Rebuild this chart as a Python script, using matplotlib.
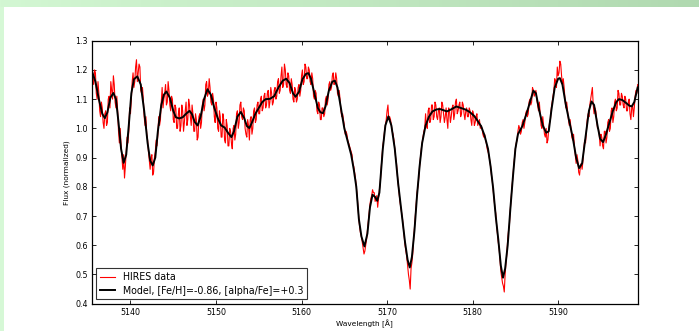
import matplotlib.pyplot as plt
import numpy as np

# model spectrum
model_wave = [
    5135.5, 5135.9, 5136.3, 5136.7, 5137.0, 5137.3, 5137.65, 5138.0, 5138.3, 5138.6,
    5138.9, 5139.2, 5139.5, 5139.8, 5140.1, 5140.4, 5140.8, 5141.2, 5141.6, 5142.0,
    5142.3, 5142.6, 5142.9, 5143.2, 5143.6, 5143.9, 5144.2, 5144.6, 5145.0, 5145.3,
    5145.7, 5146.1, 5146.5, 5146.9, 5147.2, 5147.5, 5147.85, 5148.2, 5148.6, 5149.0,
    5149.4, 5149.8, 5150.2, 5150.6, 5151.0, 5151.4, 5151.8, 5152.1, 5152.5, 5152.9,
    5153.3, 5153.6, 5153.9, 5154.2, 5154.6, 5155.0, 5155.4, 5155.8, 5156.3, 5156.8,
    5157.3, 5157.8, 5158.2, 5158.6, 5159.0, 5159.3, 5159.7, 5160.1, 5160.5, 5160.8,
    5161.1, 5161.5, 5161.9, 5162.2, 5162.5, 5162.8, 5163.2, 5163.6, 5163.9, 5164.2,
    5164.6, 5165.0, 5165.4, 5165.8, 5166.1, 5166.4, 5166.7, 5167.0, 5167.35, 5167.7,
    5168.0, 5168.3, 5168.6, 5168.85, 5169.1, 5169.5, 5169.8, 5170.15, 5170.5, 5170.9,
    5171.3, 5171.7, 5172.1, 5172.4, 5172.65, 5172.9, 5173.2, 5173.5, 5173.8, 5174.1,
    5174.5, 5174.9, 5175.3, 5175.8, 5176.2, 5176.6, 5177.0, 5177.5, 5178.1, 5178.6,
    5179.2, 5179.7, 5180.2, 5180.6, 5181.0, 5181.4, 5181.8, 5182.1, 5182.4, 5182.7,
    5183.0, 5183.3, 5183.55, 5183.8, 5184.1, 5184.4, 5184.7, 5185.0, 5185.3, 5185.8,
    5186.3, 5186.8, 5187.1, 5187.4, 5187.8, 5188.2, 5188.6, 5188.9, 5189.2, 5189.6,
    5190.0, 5190.2, 5190.5, 5190.9, 5191.3, 5191.7, 5192.1, 5192.45, 5192.8, 5193.2,
    5193.6, 5193.9, 5194.2, 5194.6, 5194.9, 5195.25, 5195.6, 5196.0, 5196.4, 5196.8,
    5197.1, 5197.5, 5197.9, 5198.3, 5198.6, 5198.9, 5199.3,
]
model_flux = [
    1.195, 1.16, 1.10, 1.05, 1.035, 1.055, 1.105, 1.121, 1.10, 1.02,
    0.93, 0.882, 0.91, 1.01, 1.12, 1.168, 1.178, 1.15, 1.06, 0.95,
    0.89, 0.873, 0.90, 0.99, 1.08, 1.115, 1.126, 1.105, 1.06, 1.038,
    1.034, 1.038, 1.05, 1.060, 1.048, 1.022, 1.010, 1.04, 1.10, 1.134,
    1.115, 1.07, 1.035, 1.01, 1.003, 0.985, 0.970, 0.99, 1.04, 1.056,
    1.035, 1.008, 1.001, 1.02, 1.05, 1.07, 1.09, 1.10, 1.101, 1.11,
    1.14, 1.163, 1.170, 1.155, 1.12, 1.108, 1.125, 1.168, 1.186, 1.189,
    1.17, 1.12, 1.07, 1.055, 1.052, 1.075, 1.13, 1.160, 1.163, 1.14,
    1.07, 1.00, 0.955, 0.91, 0.86, 0.80, 0.69, 0.63, 0.596, 0.64,
    0.73, 0.773, 0.765, 0.752, 0.78, 0.93, 1.01, 1.041, 1.01, 0.93,
    0.81, 0.71, 0.61, 0.55, 0.524, 0.56, 0.65, 0.77, 0.87, 0.95,
    1.01, 1.04, 1.058, 1.065, 1.066, 1.062, 1.058, 1.065, 1.075, 1.070,
    1.064, 1.055, 1.042, 1.025, 1.007, 0.975, 0.93, 0.87, 0.795, 0.70,
    0.62, 0.53, 0.489, 0.52, 0.60, 0.72, 0.83, 0.93, 0.98, 1.007,
    1.05, 1.10, 1.129, 1.12, 1.06, 1.01, 0.985, 0.99, 1.06, 1.14,
    1.17, 1.172, 1.15, 1.08, 1.024, 0.97, 0.90, 0.864, 0.88, 0.97,
    1.06, 1.092, 1.08, 1.01, 0.965, 0.953, 0.98, 1.02, 1.06, 1.09,
    1.100, 1.097, 1.088, 1.078, 1.075, 1.09, 1.140,
]

# HIRES data, sampled every 0.1 A from 5135.5 to 5199.3 (one row = 2 A)
data_flux = [
    1.21, 1.17, 1.15, 1.20, 1.19, 1.12, 1.10, 1.16, 1.12, 1.06, 1.04, 1.09, 1.07, 1.02, 1.00, 1.05, 1.06, 1.01, 1.02, 1.10,
    1.11, 1.07, 1.16, 1.13, 1.10, 1.18, 1.15, 1.09, 1.07, 1.11, 1.06, 0.99, 0.95, 1.00, 0.94, 0.90, 0.86, 0.91, 0.83, 0.87,
    0.92, 0.97, 0.95, 0.99, 1.07, 1.05, 1.10, 1.16, 1.19, 1.14, 1.16, 1.21, 1.235, 1.16, 1.19, 1.22, 1.21, 1.13, 1.12, 1.14,
    1.10, 1.04, 1.01, 1.04, 0.98, 0.96, 0.92, 0.89, 0.86, 0.90, 0.91, 0.84, 0.85, 0.90, 0.92, 0.96, 0.94, 0.98, 1.04, 1.01,
    1.03, 1.09, 1.14, 1.07, 1.10, 1.12, 1.15, 1.08, 1.09, 1.16, 1.13, 1.08, 1.06, 1.11, 1.10, 1.03, 1.02, 1.08, 1.07, 1.00,
    1.00, 1.05, 1.07, 0.99, 1.01, 1.08, 1.06, 0.99, 1.02, 1.06, 1.09, 1.01, 1.03, 1.10, 1.08, 1.04, 1.01, 1.08, 1.05, 0.99,
    0.99, 1.05, 1.03, 0.96, 0.97, 1.04, 1.05, 1.00, 1.02, 1.08, 1.10, 1.06, 1.08, 1.15, 1.16, 1.11, 1.12, 1.17, 1.14, 1.09,
    1.08, 1.12, 1.10, 1.04, 1.02, 1.09, 1.07, 1.00, 0.99, 1.06, 1.04, 0.97, 0.97, 1.05, 1.03, 0.96, 0.95, 1.03, 1.01, 0.94,
    0.94, 1.00, 0.99, 0.95, 0.93, 1.00, 1.01, 0.96, 0.98, 1.05, 1.06, 1.00, 1.02, 1.08, 1.09, 1.04, 1.03, 1.07, 1.06, 1.00,
    0.98, 0.97, 1.03, 1.01, 0.96, 1.03, 1.04, 0.98, 1.00, 1.06, 1.07, 1.02, 1.03, 1.08, 1.09, 1.05, 1.05, 1.10, 1.11, 1.06,
    1.07, 1.11, 1.12, 1.07, 1.08, 1.12, 1.13, 1.07, 1.09, 1.14, 1.12, 1.08, 1.09, 1.13, 1.14, 1.10, 1.11, 1.16, 1.17, 1.12,
    1.13, 1.18, 1.21, 1.14, 1.15, 1.22, 1.20, 1.15, 1.14, 1.19, 1.18, 1.13, 1.12, 1.17, 1.15, 1.10, 1.09, 1.14, 1.13, 1.09,
    1.10, 1.14, 1.15, 1.11, 1.13, 1.18, 1.20, 1.15, 1.16, 1.22, 1.21, 1.17, 1.17, 1.21, 1.20, 1.16, 1.15, 1.19, 1.17, 1.11,
    1.10, 1.13, 1.12, 1.06, 1.05, 1.09, 1.08, 1.03, 1.03, 1.07, 1.07, 1.04, 1.05, 1.10, 1.11, 1.08, 1.10, 1.15, 1.16, 1.13,
    1.14, 1.18, 1.19, 1.15, 1.16, 1.19, 1.17, 1.12, 1.11, 1.13, 1.10, 1.06, 1.04, 1.05, 1.03, 1.01, 0.98, 0.99, 0.98, 0.96,
    0.95, 0.94, 0.93, 0.92, 0.91, 0.88, 0.87, 0.85, 0.83, 0.80, 0.77, 0.73, 0.69, 0.66, 0.64, 0.63, 0.61, 0.59, 0.57, 0.58,
    0.60, 0.62, 0.65, 0.68, 0.71, 0.74, 0.76, 0.77, 0.79, 0.78, 0.78, 0.75, 0.76, 0.77, 0.73, 0.76, 0.79, 0.81, 0.86, 0.90,
    0.94, 0.96, 0.99, 1.01, 1.03, 1.06, 1.08, 1.03, 1.04, 1.03, 1.01, 0.99, 0.98, 0.96, 0.93, 0.90, 0.88, 0.84, 0.81, 0.78,
    0.75, 0.73, 0.71, 0.69, 0.66, 0.63, 0.60, 0.58, 0.56, 0.53, 0.50, 0.48, 0.45, 0.52, 0.54, 0.57, 0.62, 0.66, 0.70, 0.74,
    0.78, 0.80, 0.83, 0.87, 0.90, 0.93, 0.95, 0.97, 0.99, 1.00, 1.05, 1.01, 1.00, 1.06, 1.07, 1.02, 1.03, 1.08, 1.08, 1.03,
    1.04, 1.09, 1.08, 1.04, 1.03, 1.06, 1.07, 1.02, 1.04, 1.09, 1.08, 1.05, 1.02, 1.04, 1.07, 1.03, 1.00, 1.07, 1.06, 1.02,
    1.04, 1.07, 1.08, 1.03, 1.05, 1.09, 1.10, 1.05, 1.06, 1.08, 1.09, 1.04, 1.05, 1.09, 1.08, 1.05, 1.03, 1.06, 1.07, 1.04,
    1.04, 1.07, 1.06, 1.03, 1.01, 1.06, 1.05, 1.01, 1.02, 1.04, 1.05, 1.01, 1.02, 1.03, 1.00, 1.01, 1.00, 0.98, 0.97, 0.98,
    0.96, 0.95, 0.93, 0.92, 0.91, 0.89, 0.87, 0.84, 0.82, 0.79, 0.76, 0.73, 0.71, 0.67, 0.64, 0.61, 0.59, 0.55, 0.51, 0.49,
    0.47, 0.46, 0.44, 0.50, 0.54, 0.57, 0.62, 0.65, 0.67, 0.72, 0.76, 0.80, 0.83, 0.87, 0.90, 0.93, 0.95, 0.96, 0.99, 1.01,
    1.00, 0.98, 0.99, 1.02, 1.03, 1.00, 1.02, 1.05, 1.06, 1.04, 1.05, 1.09, 1.10, 1.08, 1.09, 1.14, 1.13, 1.11, 1.12, 1.13,
    1.10, 1.08, 1.06, 1.09, 1.05, 1.01, 1.00, 1.04, 1.01, 0.98, 0.97, 1.00, 0.95, 0.96, 1.00, 1.02, 1.03, 1.07, 1.09, 1.11,
    1.13, 1.17, 1.16, 1.14, 1.21, 1.18, 1.19, 1.23, 1.22, 1.18, 1.15, 1.17, 1.14, 1.10, 1.07, 1.09, 1.06, 1.03, 1.01, 1.03,
    1.00, 0.97, 0.96, 0.98, 0.94, 0.91, 0.88, 0.91, 0.89, 0.85, 0.84, 0.87, 0.88, 0.86, 0.89, 0.93, 0.96, 0.95, 0.99, 1.03,
    1.05, 1.04, 1.08, 1.10, 1.12, 1.14, 1.08, 1.05, 1.07, 1.06, 1.03, 1.00, 1.00, 0.98, 0.94, 0.98, 0.97, 0.94, 0.93, 0.99,
    0.99, 0.95, 0.97, 1.02, 1.03, 0.99, 1.00, 1.06, 1.07, 1.02, 1.04, 1.09, 1.10, 1.06, 1.07, 1.13, 1.12, 1.08, 1.08, 1.12,
    1.11, 1.08, 1.07, 1.11, 1.10, 1.06, 1.06, 1.09, 1.10, 1.05, 1.03, 1.07, 1.08, 1.04, 1.07, 1.11, 1.13, 1.12, 1.15,
]
data_wave = np.linspace(5135.5, 5199.3, len(data_flux))

xticks = [5140, 5150, 5160, 5170, 5180, 5190]
yticks = [0.4, 0.5, 0.6, 0.7, 0.8, 0.9, 1.0, 1.1, 1.2, 1.3]

fig = plt.figure(figsize=(6.99, 3.31), dpi=100)

# green frame of the page around the figure
top = fig.add_axes([0, 1 - 7 / 331, 1, 7 / 331])
top.imshow(np.linspace(0, 1, 256)[None, :], aspect='auto', cmap=plt.matplotlib.colors.LinearSegmentedColormap.from_list('g', ['#d3f7d3', '#b0d9b0']))
top.axis('off')
side = fig.add_axes([0, 0, 4 / 699, 1 - 7 / 331])
side.set_facecolor('#d6f8d6')
side.set_xticks([])
side.set_yticks([])
for s in side.spines.values():
    s.set_visible(False)

ax = fig.add_axes([92 / 699, 1 - 303.7 / 331, (637.7 - 92) / 699, (303.7 - 40.7) / 331])
ax.plot(data_wave, data_flux, color='red', lw=0.8, label='HIRES data')
ax.plot(model_wave, model_flux, color='black', lw=1.4, label='Model, [Fe/H]=-0.86, [alpha/Fe]=+0.3')
ax.set_xlim(5135.5, 5199.3)
ax.set_ylim(0.4, 1.3)
ax.set_xticks(xticks)
ax.set_yticks(yticks)
ax.set_yticklabels(['%.1f' % v for v in yticks])
ax.tick_params(direction='in', top=True, right=True, labelsize=5.7, length=3, width=0.6, pad=3)
for s in ax.spines.values():
    s.set_linewidth(0.9)
ax.set_xlabel('Wavelength [Å]', fontsize=5.3, labelpad=2)
ax.set_ylabel('Flux (normalized)', fontsize=5.3, labelpad=4)
leg = ax.legend(loc='lower left', fontsize=6.85, fancybox=False, handlelength=1.6,
                borderaxespad=0.45, borderpad=0.4, labelspacing=0.35)
leg.get_frame().set_edgecolor('black')
leg.get_frame().set_linewidth(0.8)

plt.savefig('out.png', dpi=100)
